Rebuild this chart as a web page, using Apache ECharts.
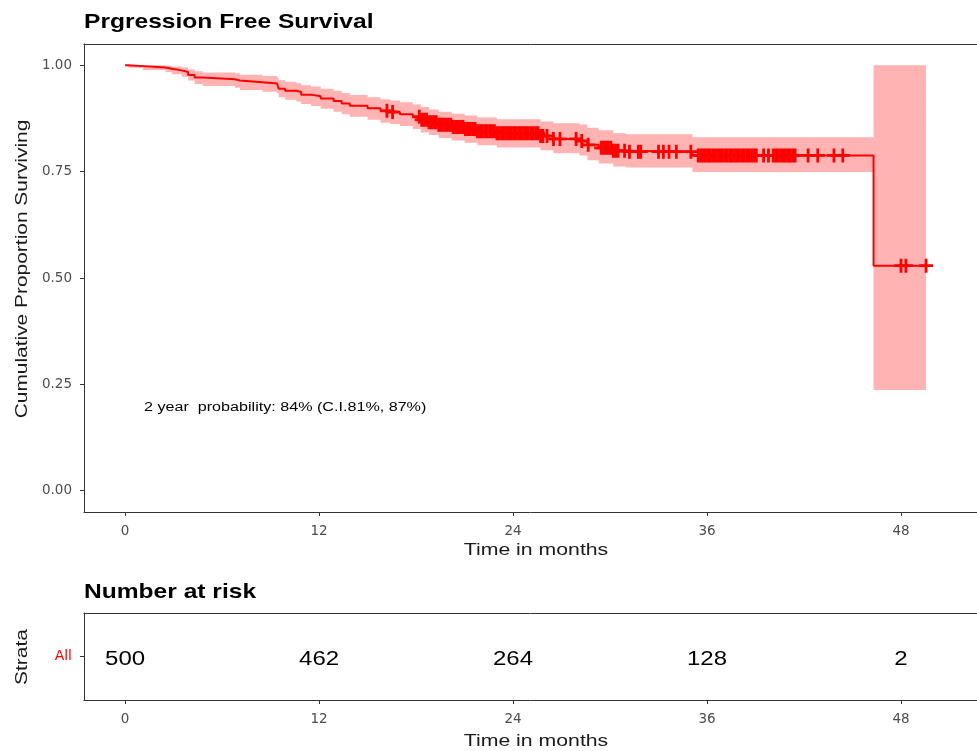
<!DOCTYPE html>
<html><head><meta charset="utf-8">
<script src="https://cdn.jsdelivr.net/npm/echarts@6/dist/echarts.min.js"></script>
<style>html,body{margin:0;padding:0;background:#fff}#c{width:977px;height:751px}</style>
</head><body><div id="c"></div>
<script>
// ---- data ----
const stepTimes = [0, 0.2, 1.1, 2.5, 2.9, 3.5, 3.9, 4.3, 4.8, 6.8, 7.1, 8.5, 9.4, 9.5, 9.9, 10.6, 10.9, 11.5, 12.1, 12.9, 13.4, 13.9, 15.0, 15.8, 16.4, 17.0, 17.8, 18.3, 18.8, 19.4, 20.2, 21.0, 21.8, 23.0, 25.7, 26.5, 28.1, 28.6, 29.3, 30.2, 31.0, 35.1, 46.3, 49.55];
const survival = [1.000, 0.998, 0.995, 0.992, 0.988, 0.984, 0.977, 0.971, 0.967, 0.964, 0.960, 0.957, 0.953, 0.945, 0.940, 0.937, 0.931, 0.927, 0.922, 0.916, 0.910, 0.905, 0.899, 0.893, 0.890, 0.885, 0.879, 0.872, 0.866, 0.860, 0.855, 0.850, 0.845, 0.840, 0.834, 0.827, 0.822, 0.813, 0.806, 0.799, 0.797, 0.788, 0.529, 0.529];
const upperCI = [1.000, 1.000, 1.000, 0.999, 0.997, 0.995, 0.990, 0.986, 0.983, 0.981, 0.978, 0.975, 0.972, 0.965, 0.961, 0.958, 0.953, 0.950, 0.945, 0.940, 0.935, 0.930, 0.925, 0.920, 0.917, 0.913, 0.908, 0.902, 0.896, 0.891, 0.886, 0.882, 0.877, 0.873, 0.868, 0.864, 0.861, 0.853, 0.847, 0.840, 0.838, 0.831, 1.000, 1.000];
const lowerCI = [1.000, 0.994, 0.989, 0.984, 0.979, 0.973, 0.964, 0.956, 0.951, 0.947, 0.942, 0.938, 0.934, 0.925, 0.919, 0.915, 0.909, 0.904, 0.898, 0.891, 0.885, 0.879, 0.872, 0.865, 0.862, 0.857, 0.850, 0.842, 0.836, 0.829, 0.823, 0.818, 0.812, 0.807, 0.800, 0.793, 0.788, 0.777, 0.769, 0.762, 0.760, 0.749, 0.237, 0.237];
const censorTimes = [16.2, 16.55,
  18.2, 18.35, 18.5, 18.65, 18.8, 18.95, 19.1, 19.25, 19.4, 19.55, 19.7, 19.85, 20.0, 20.15, 20.3, 20.45, 20.6, 20.75, 20.9, 21.05, 21.2, 21.35, 21.5, 21.65, 21.8, 21.95, 22.1, 22.25, 22.4, 22.55, 22.7, 22.85, 23.0, 23.15, 23.3, 23.45, 23.6, 23.75, 23.9, 24.05, 24.2, 24.35, 24.5, 24.65, 24.8, 24.95, 25.1, 25.25, 25.4, 25.55, 25.7, 25.85,
  26.1, 26.5, 26.9, 27.9, 28.25, 28.65, 29.45, 29.6, 29.75, 29.9, 30.05, 30.2, 30.35, 30.5, 30.9, 31.2, 31.75, 31.9, 33.0, 33.3, 33.65, 34.1, 35.0,
  35.45, 35.6, 35.75, 35.9, 36.05, 36.2, 36.35, 36.5, 36.65, 36.8, 36.95, 37.1, 37.25, 37.4, 37.55, 37.7, 37.85, 38.0, 38.15, 38.3, 38.45, 38.6, 38.75, 38.9, 39.05,
  39.5, 39.8, 40.1, 40.25, 40.4, 40.55, 40.7, 40.85, 41.0, 41.15, 41.3, 41.45, 42.25, 42.85, 43.85, 44.4, 48.0, 48.3, 49.55];
const xTicks = [0, 12, 24, 36, 48];
const yTicks = [0, 0.25, 0.5, 0.75, 1];
const strata = ['All'];
const riskTimes = [0, 12, 24, 36, 48];
const riskCounts = [500, 462, 264, 128, 2];
const annotationText = '2 year  probability: 84% (C.I.81%, 87%)';

// ---- chart ----
const chart = echarts.init(document.getElementById('c'), null, {renderer: 'canvas'});
const X_MIN = -2.54, X_MAX = 52.70;
const FONT = 'Liberation Sans';
const AXIS_COLOR = '#333';

function survAt(t) {
  let s = survival[0];
  for (let i = 0; i < stepTimes.length; i++) if (stepTimes[i] <= t) s = survival[i];
  return s;
}

const plusPath = 'path://M5.2,0H7.8V5.2H13V7.8H7.8V13H5.2V7.8H0V5.2H5.2Z';

function xAxisCfg(gi) {
  return {
    gridIndex: gi, type: 'value', min: X_MIN, max: X_MAX, position: 'bottom',
    splitLine: {show: false},
    axisLine: {show: true, onZero: false, lineStyle: {color: AXIS_COLOR, width: 1}},
    axisTick: {show: true, customValues: xTicks, length: 4, lineStyle: {color: AXIS_COLOR, width: 1}},
    axisLabel: {show: true, customValues: xTicks, margin: 12, color: '#4d4d4d', fontSize: 13.5, fontFamily: 'DejaVu Sans'}
  };
}
function topBorderAxis(gi) {
  return {
    gridIndex: gi, type: 'value', min: X_MIN, max: X_MAX, position: 'top',
    splitLine: {show: false}, axisTick: {show: false}, axisLabel: {show: false},
    axisLine: {show: true, onZero: false, lineStyle: {color: AXIS_COLOR, width: 1}}
  };
}

function txt(x, y, text, size, opts) {
  opts = opts || {};
  return {
    type: 'text', x: x, y: y, rotation: opts.rot || 0, scaleX: opts.sx || 1, silent: true,
    style: {text: text, fontSize: size, fontFamily: FONT, fontWeight: opts.bold ? 'bold' : 'normal',
      fill: opts.color || '#000', align: opts.align || 'center', verticalAlign: 'middle'}
  };
}

const option = {
  animation: false,
  backgroundColor: '#fff',
  grid: [
    {left: 84, top: 44, right: 0, height: 468},
    {left: 84, top: 613, right: 0, height: 87}
  ],
  xAxis: [xAxisCfg(0), xAxisCfg(1), topBorderAxis(0), topBorderAxis(1)],
  yAxis: [
    {gridIndex: 0, type: 'value', min: -0.05, max: 1.05, splitLine: {show: false},
      axisLine: {show: true, onZero: false, lineStyle: {color: AXIS_COLOR, width: 1}},
      axisTick: {show: true, customValues: yTicks, length: 4, lineStyle: {color: AXIS_COLOR, width: 1}},
      axisLabel: {show: true, customValues: yTicks, formatter: v => v.toFixed(2), margin: 12, color: '#4d4d4d', fontSize: 13.5, fontFamily: 'DejaVu Sans'}},
    {gridIndex: 1, type: 'category', data: strata, splitLine: {show: false},
      axisLine: {show: true, onZero: false, lineStyle: {color: AXIS_COLOR, width: 1}},
      axisTick: {show: true, alignWithLabel: true, length: 4, lineStyle: {color: AXIS_COLOR, width: 1}},
      axisLabel: {show: true, margin: 12, color: '#ff0000', fontSize: 14, fontFamily: 'DejaVu Sans'}}
  ],
  graphic: [
    txt(84, 22, 'Prgression Free Survival', 21, {bold: true, align: 'left', sx: 1.17}),
    txt(22, 269, 'Cumulative Proportion Surviving', 17, {rot: Math.PI / 2, sx: 1.23, color: '#1a1a1a'}),
    txt(536, 550, 'Time in months', 17, {sx: 1.25, color: '#1a1a1a'}),
    txt(144, 408, annotationText, 12.5, {align: 'left', sx: 1.29}),
    txt(84, 592, 'Number at risk', 21, {bold: true, align: 'left', sx: 1.17}),
    txt(22, 657, 'Strata', 17, {rot: Math.PI / 2, sx: 1.23, color: '#1a1a1a'}),
    txt(536, 741, 'Time in months', 17, {sx: 1.25, color: '#1a1a1a'})
  ],
  series: [
    {
      type: 'custom', xAxisIndex: 0, yAxisIndex: 0, silent: true, z: 1,
      data: [[0, 1]],
      renderItem: function (params, api) {
        const n = stepTimes.length, pts = [];
        for (let i = 0; i < n; i++) {
          const t1 = i + 1 < n ? stepTimes[i + 1] : stepTimes[i];
          pts.push(api.coord([stepTimes[i], upperCI[i]]));
          pts.push(api.coord([t1, upperCI[i]]));
        }
        for (let i = n - 1; i >= 0; i--) {
          const t1 = i + 1 < n ? stepTimes[i + 1] : stepTimes[i];
          pts.push(api.coord([t1, lowerCI[i]]));
          pts.push(api.coord([stepTimes[i], lowerCI[i]]));
        }
        return {type: 'polygon', shape: {points: pts}, style: {fill: '#ffb3b3', stroke: null}};
      }
    },
    {
      type: 'line', xAxisIndex: 0, yAxisIndex: 0, step: 'end', symbol: 'none', z: 3, silent: true,
      data: stepTimes.map((t, i) => [t, survival[i]]),
      lineStyle: {color: '#ff0000', width: 2}
    },
    {
      type: 'scatter', xAxisIndex: 0, yAxisIndex: 0, symbol: plusPath, symbolSize: 14, z: 4, silent: true,
      data: censorTimes.map(t => [t, survAt(t)]),
      itemStyle: {color: '#ff0000', opacity: 1}
    },
    {
      type: 'custom', xAxisIndex: 1, yAxisIndex: 1, silent: true, z: 3,
      encode: {x: 0, y: 1},
      data: riskTimes.map((t, i) => [t, 0, riskCounts[i]]),
      renderItem: function (params, api) {
        const p = api.coord([api.value(0), api.value(1)]);
        return {type: 'text', x: p[0], y: p[1] + 3, scaleX: 1.2,
          style: {text: String(api.value(2)), fontSize: 20, fontFamily: FONT, fill: '#000', align: 'center', verticalAlign: 'middle'}};
      }
    }
  ]
};
chart.setOption(option);
</script>
</body></html>
